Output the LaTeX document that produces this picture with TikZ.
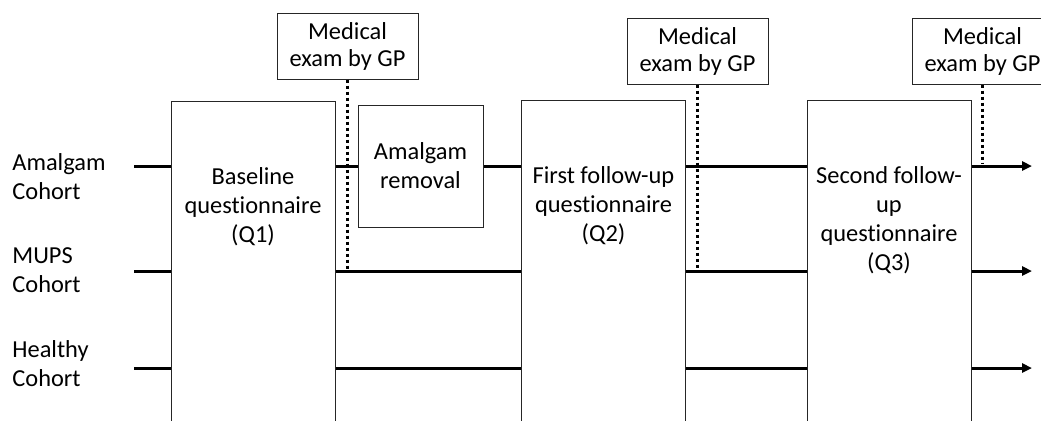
\documentclass[tikz,border=0pt]{standalone}
\usepackage{fontspec}
\setmainfont{Carlito}[RawFeature={-liga}]
\usetikzlibrary{positioning,arrows.meta}
\tikzset{
  stage/.style={draw=black!85, line width=0.5pt, minimum width=82pt, minimum height=170pt, anchor=north},
  exambox/.style={draw=black!85, line width=0.5pt, fill=white, minimum width=70.5pt, minimum height=33pt, align=center, inner sep=0pt, font=\fontsize{12.2}{13.5}\selectfont},
  removalbox/.style={draw=black!85, line width=0.5pt, minimum width=62.5pt, minimum height=61pt, align=center, inner sep=0pt},
  stagetext/.style={align=center, inner sep=0pt},
  cohort/.style={align=left, anchor=west, inner sep=0pt},
  track/.style={line width=1.5pt},
  trackend/.style={line width=1.5pt, -{Triangle[length=5pt,width=4.5pt]}},
  examline/.style={line width=1.5pt, dash pattern=on 1.5pt off 1.5pt}
}
\begin{document}
\begin{tikzpicture}[x=0.5pt,y=-0.5pt,font=\fontsize{12.2}{14.5}\selectfont]
  \path[use as bounding box,clip] (0,0) rectangle (1041,420);

  % cohorts
  \node[cohort] (amalgam) at (12,177) {Amalgam\\Cohort};
  \node[cohort] (mups) at (12,270) {MUPS\\Cohort};
  \node[cohort] (healthy) at (12,364) {Healthy\\Cohort};
  \coordinate (a0) at (134,166);
  \coordinate (m0) at (134,271);
  \coordinate (h0) at (134,368);
  \coordinate (aE) at (1032,166);
  \coordinate (mE) at (1032,271);
  \coordinate (hE) at (1032,368);

  % questionnaires
  \node[stage] (q1) at (253,100.5) {};
  \node[stage] (q2) at (603.5,100) {};
  \node[stage] (q3) at (889,100) {};
  \node[stagetext] (q1text) at (253,207) {Baseline\\questionnaire\\(Q1)};
  \node[stagetext] (q2text) at (603.5,206) {First follow-up\\questionnaire\\(Q2)};
  \node[stagetext] (q3text) at (889,220) {Second follow-\\up\\questionnaire\\(Q3)};
  \node[removalbox] (removal) at (420.5,166) {Amalgam\\removal};

  % exams
  \node[exambox] (exam1) at (347.5,46) {Medical\\exam by GP};
  \node[exambox] (exam2) at (697.5,51) {Medical\\exam by GP};
  \node[exambox] (exam3) at (982.5,51) {Medical\\exam by GP};

  % time lines
  \draw[track] (a0) -- (a0 -| q1.west);
  \draw[track] (q1.east |- a0) -- (removal.west);
  \draw[track] (removal.east) -- (a0 -| q2.west);
  \draw[track] (q2.east |- a0) -- (a0 -| q3.west);
  \draw[trackend] (q3.east |- a0) -- (aE);
  \draw[track] (m0) -- (m0 -| q1.west);
  \draw[track] (q1.east |- m0) -- (m0 -| q2.west);
  \draw[track] (q2.east |- m0) -- (m0 -| q3.west);
  \draw[trackend] (q3.east |- m0) -- (mE);
  \draw[track] (h0) -- (h0 -| q1.west);
  \draw[track] (q1.east |- h0) -- (h0 -| q2.west);
  \draw[track] (q2.east |- h0) -- (h0 -| q3.west);
  \draw[trackend] (q3.east |- h0) -- (hE);

  \draw[examline] (exam1.south) -- ([yshift=1pt]exam1.south |- m0);
  \draw[examline] (exam2.south) -- ([yshift=1pt]exam2.south |- m0);
  \draw[examline] (exam3.south) -- ([yshift=1pt]exam3.south |- a0);
\end{tikzpicture}
\end{document}
